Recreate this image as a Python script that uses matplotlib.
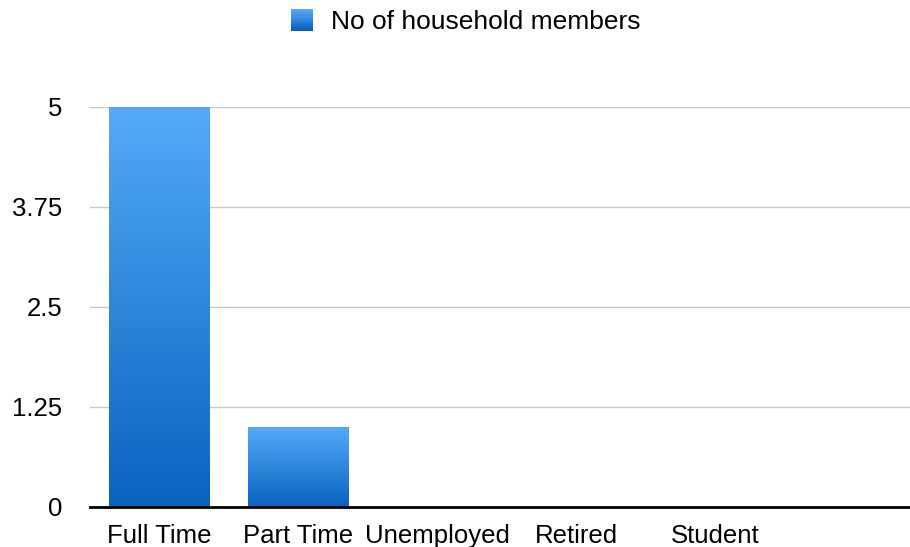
import numpy as np
import matplotlib
matplotlib.use('Agg')
import matplotlib.pyplot as plt
from matplotlib.patches import Rectangle
from matplotlib.legend_handler import HandlerBase
from matplotlib.colors import LinearSegmentedColormap

categories = ['Full Time', 'Part Time', 'Unemployed', 'Retired', 'Student']
members = [5, 1, 0, 0, 0]
y_ticks = [0, 1.25, 2.5, 3.75, 5]
y_labels = ['0', '1.25', '2.5', '3.75', '5']
series_name = 'No of household members'

top_col = '#55aaf8'
bot_col = '#0862bf'
cmap = LinearSegmentedColormap.from_list('bar', [bot_col, top_col])

plt.rcParams['font.family'] = ['Liberation Sans', 'DejaVu Sans']

fig = plt.figure(figsize=(9.1, 5.47), dpi=100)
ax = fig.add_axes([89.5 / 910, 1 - 507 / 547, 1 - 89.5 / 910, 400 / 547])

x = np.arange(len(categories))
bars = ax.bar(x, members, width=0.72, color='none', edgecolor='none', zorder=3)
grad = np.linspace(0, 1, 256).reshape(-1, 1)
for b in bars:
    h = b.get_height()
    if h <= 0:
        continue
    x0 = b.get_x()
    im = ax.imshow(grad, cmap=cmap, origin='lower', aspect='auto',
                   extent=[x0, x0 + b.get_width(), 0, h], zorder=3)
    im.set_clip_path(b)

ax.set_xlim(-0.5, -0.5 + 820.5 / 139)
ax.set_ylim(0, 5)
ax.set_yticks(y_ticks)
ax.set_yticklabels(y_labels)
ax.set_xticks(x)
ax.set_xticklabels(categories)
ax.tick_params(axis='both', length=0, labelsize=18.5, colors='black')
ax.tick_params(axis='y', pad=19.5)
ax.tick_params(axis='x', pad=12)
ax.yaxis.grid(True, color='#c8c8c8', linewidth=1.0)
ax.set_axisbelow(True)
for s in ['top', 'right', 'left']:
    ax.spines[s].set_visible(False)
ax.spines['bottom'].set_linewidth(2.0)
ax.spines['bottom'].set_color('black')
ax.spines['bottom'].set_zorder(4)


class GradientHandler(HandlerBase):
    def create_artists(self, legend, orig_handle, xdescent, ydescent,
                       width, height, fontsize, trans):
        side = 15.5
        x0 = -xdescent + (width - side) / 2
        y0 = -ydescent + (height - side) / 2
        n = 20
        arts = []
        for i in range(n):
            r = Rectangle((x0, y0 + side * i / n), side, side / n + 0.3,
                          facecolor=cmap(i / (n - 1)), edgecolor='none',
                          transform=trans)
            arts.append(r)
        return arts


handle = Rectangle((0, 0), 1, 1)
fig.legend([handle], [series_name], handler_map={Rectangle: GradientHandler()},
           loc='center', bbox_to_anchor=(465.5 / 910, 1 - 22 / 547), frameon=False,
           fontsize=19, handlelength=0.85, handletextpad=0.65)

fig.savefig('out.png', dpi=100)
